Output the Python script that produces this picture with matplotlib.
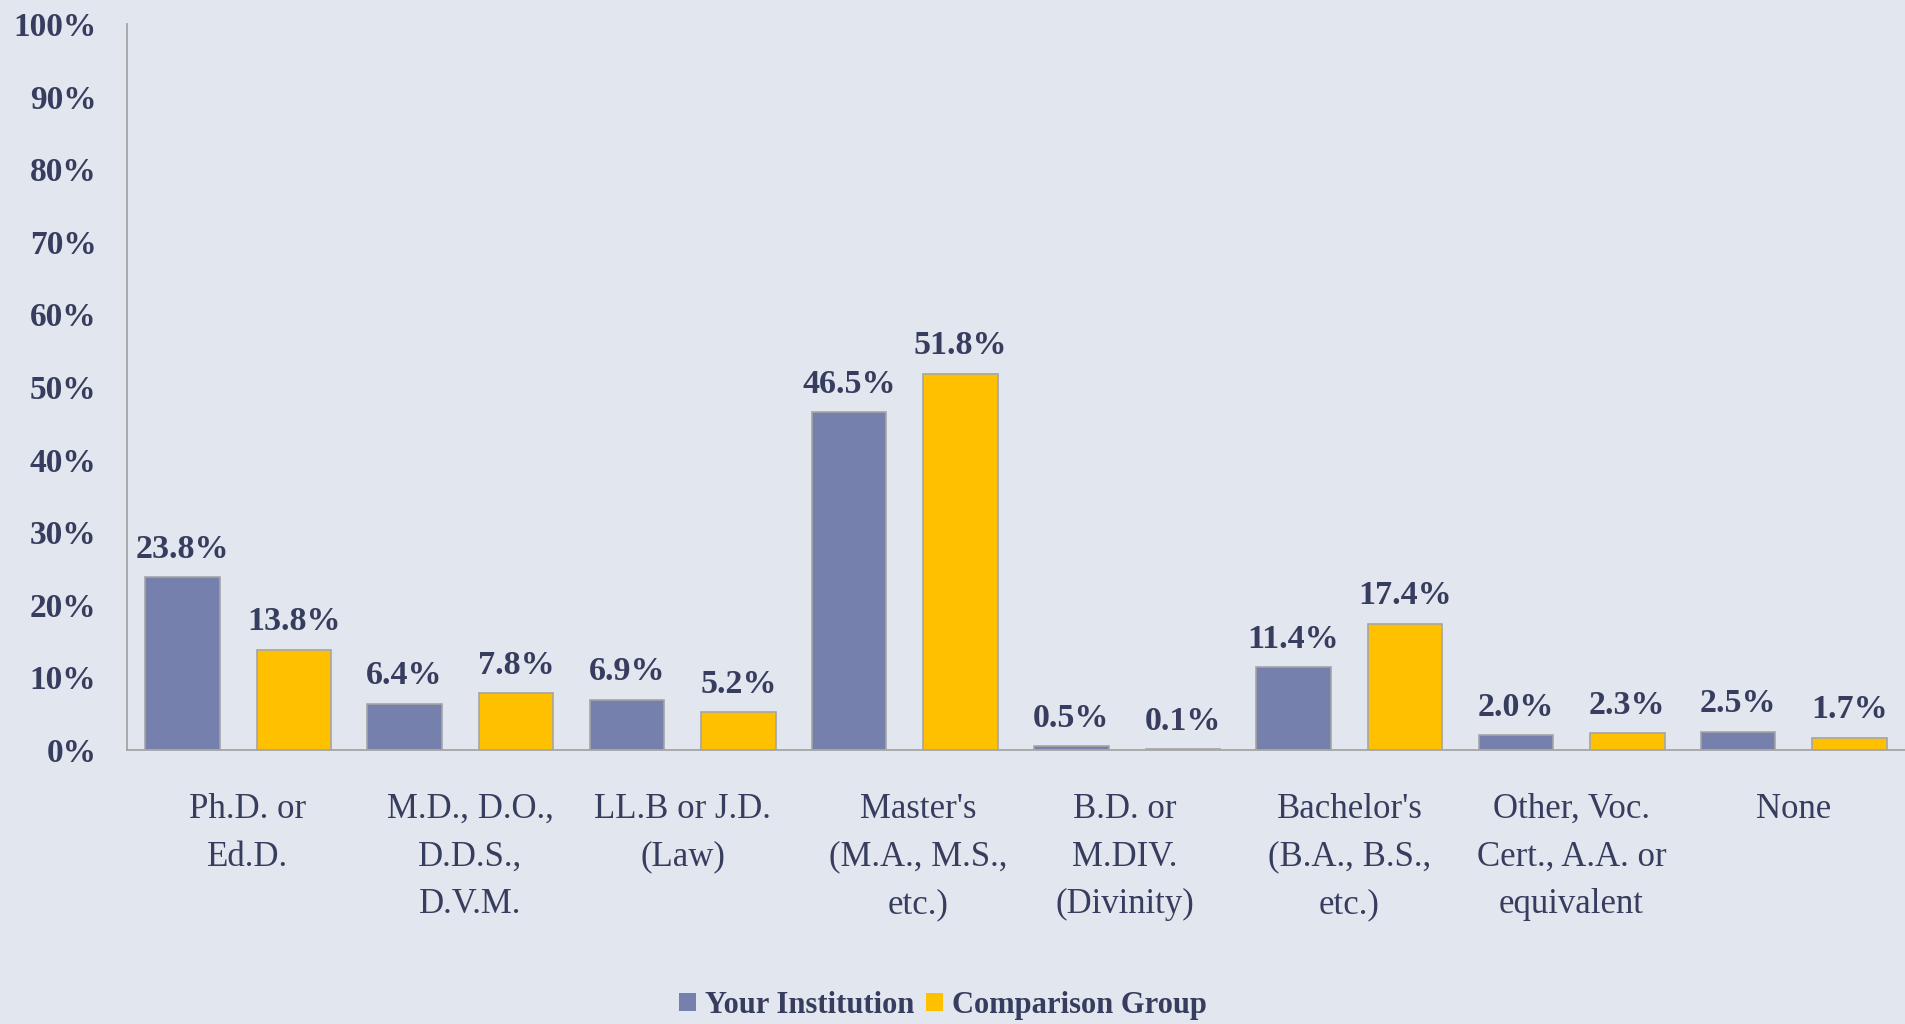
import matplotlib
matplotlib.use('Agg')
import matplotlib.pyplot as plt
import numpy as np
from matplotlib.patches import Patch

# degree levels and share of respondents (fractions)
categories = [
    "Ph.D. or\nEd.D.",
    "M.D., D.O.,\nD.D.S.,\nD.V.M.",
    "LL.B or J.D.\n(Law)",
    "Master's\n(M.A., M.S.,\netc.)",
    "B.D. or\nM.DIV.\n(Divinity)",
    "Bachelor's\n(B.A., B.S.,\netc.)",
    "Other, Voc.\nCert., A.A. or\nequivalent",
    "None",
]
your_institution = [0.238, 0.064, 0.069, 0.465, 0.005, 0.114, 0.020, 0.025]
comparison_group = [0.138, 0.078, 0.052, 0.518, 0.001, 0.174, 0.023, 0.017]
series_names = ["Your Institution", "Comparison Group"]
yticks = np.arange(0, 1.01, 0.1)

# small horizontal nudges (points) for the wrapped category labels
label_nudge = [7, 7, 0, 9.5, -1.5, 0, 0, 0]

BG = '#E2E6EE'
TEXT = '#373D5E'
BLUE = '#7580AC'
GOLD = '#FFC000'
EDGE = '#A5A5A5'

plt.rcParams['font.family'] = ['Liberation Serif', 'DejaVu Serif']

fig = plt.figure(figsize=(19.05, 10.24), dpi=100, facecolor=BG)
ax = fig.add_axes([127 / 1905, 0.2676, 1 - 127 / 1905, 0.709])
ax.set_facecolor(BG)

x = np.arange(len(categories))
width = 0.336
offset = 0.251
for vals, color, dx in [(your_institution, BLUE, -offset), (comparison_group, GOLD, offset)]:
    bars = ax.bar(x + dx, vals, width, color=color, edgecolor=EDGE, linewidth=1.2, zorder=2)
    for b, v in zip(bars, vals):
        ax.annotate(f"{v * 100:.1f}%", (b.get_x() + b.get_width() / 2, v),
                    xytext=(0, 14), textcoords='offset points',
                    ha='center', va='baseline', fontsize=24.5,
                    fontweight='bold', color=TEXT)

ax.set_xlim(-0.5, len(categories) - 0.5)
ax.set_ylim(0, 1)
ax.set_yticks(yticks)
ax.set_yticklabels([f"{int(round(t * 100))}%" for t in yticks],
                   fontsize=24, fontweight='bold', color=TEXT)
ax.set_xticks(x)
ax.set_xticklabels([])
ax.tick_params(axis='y', length=0, pad=22)
ax.tick_params(axis='x', length=0)

# category names under the axis
for xi, name, nudge in zip(x, categories, label_nudge):
    ax.annotate(name, (xi, 0), xycoords=('data', 'axes fraction'),
                xytext=(nudge, -31), textcoords='offset points',
                ha='center', va='top', ma='center', fontsize=25,
                color=TEXT, linespacing=1.58, annotation_clip=False)

for s in ['top', 'right']:
    ax.spines[s].set_visible(False)
for s in ['left', 'bottom']:
    ax.spines[s].set_color(EDGE)
    ax.spines[s].set_linewidth(1.3)

handles = [Patch(facecolor=BLUE, edgecolor='none'), Patch(facecolor=GOLD, edgecolor='none')]
fig.legend(handles, series_names, loc='center', bbox_to_anchor=(0.495, 0.018),
           ncol=2, frameon=False, handlelength=0.55, handleheight=0.55,
           handletextpad=0.3, columnspacing=0.4,
           prop={'size': 22, 'weight': 'bold'}, labelcolor=TEXT)

fig.savefig('out.png', dpi=100, facecolor=BG)
